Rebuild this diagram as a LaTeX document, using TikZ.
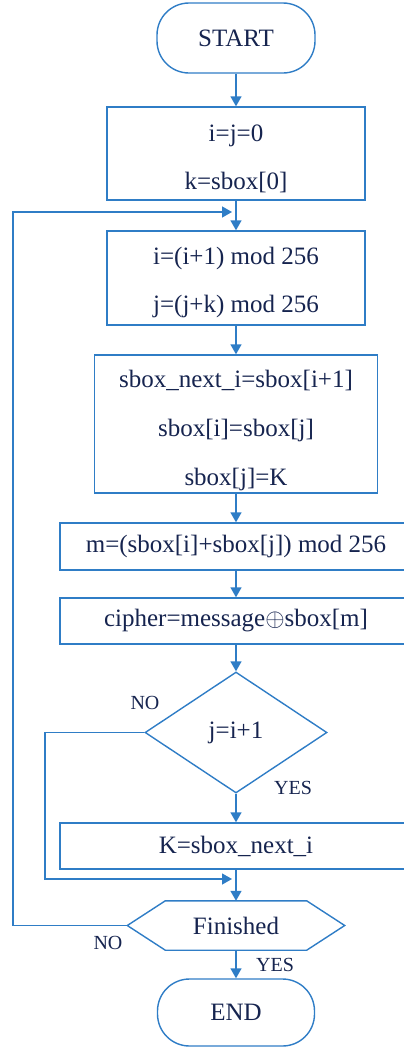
\documentclass[tikz,border=0pt]{standalone}
\usepackage{fontspec}
\setmainfont{Liberation Serif}
\usetikzlibrary{arrows.meta,positioning,shapes.geometric}
\definecolor{flowline}{HTML}{2F7DC6}
\definecolor{flowtext}{HTML}{16244F}

\begin{document}
\begin{tikzpicture}[x=1pt,y=-1pt,
  font=\fontsize{25pt}{48pt}\selectfont,text=flowtext,
  box/.style={draw=flowline,line width=1.4pt,rectangle,inner sep=0pt,align=center},
  term/.style={box,rounded corners=32pt},
  arr/.style={draw=flowline,line width=1.4pt,-{Triangle[length=10pt,width=11pt]}},
  lbl/.style={font=\fontsize{20pt}{24pt}\selectfont}]
  \useasboundingbox (0,0) rectangle (404,1050);
  % main column
  \node[term,minimum width=158pt,minimum height=70pt] (start) at (236,38) {START};
  \node[box,minimum width=258pt,minimum height=93pt] (init) at (236,153.5)
    {\rule{0pt}{27pt}i=j=0\\k=sbox[0]};
  \node[box,minimum width=258pt,minimum height=94pt] (upd) at (236,278)
    {\rule{0pt}{27pt}i=(i+1) mod 256\\j=(j+k) mod 256};
  \node[box,minimum width=283pt,minimum height=138pt,
    font=\fontsize{25pt}{49pt}\selectfont] (swap) at (236,424)
    {\rule{0pt}{30pt}sbox\_next\_i=sbox[i+1]\\sbox[i]=sbox[j]\\sbox[j]=K};
  \node[box,minimum width=352pt,minimum height=47pt] (mix) at (236,546.5)
    {m=(sbox[i]+sbox[j]) mod 256};
  \node[box,minimum width=352pt,minimum height=46pt] (enc) at (236,621)
    {cipher=message$\oplus$sbox[m]};
  \node[diamond,draw=flowline,line width=1.4pt,inner sep=0pt,
    minimum width=182pt,minimum height=121pt] (cmp) at (236,732.5) {j=i+1};
  \node[box,minimum width=352pt,minimum height=46pt] (kset) at (236,846)
    {K=sbox\_next\_i};
  \node[inner sep=0pt,minimum width=217pt,minimum height=49pt] (fin) at (236,925.5)
    {Finished};
  \draw[flowline,line width=1.4pt] (fin.west) -- ([xshift=38pt]fin.north west)
    -- ([xshift=-38pt]fin.north east) -- (fin.east)
    -- ([xshift=-38pt]fin.south east) -- ([xshift=38pt]fin.south west) -- cycle;
  \node[term,minimum width=157pt,minimum height=67pt] (endn) at (236,1012.5) {END};
  % connectors
  \draw[arr] (start) -- (init);
  \draw[arr] (init) -- (upd);
  \draw[arr] (upd) -- (swap);
  \draw[arr] (swap) -- (mix);
  \draw[arr] (mix) -- (enc);
  \draw[arr] (enc) -- (cmp);
  \draw[arr] (cmp) -- (kset);
  \draw[arr] (kset) -- (fin);
  \draw[arr] (fin) -- (endn);
  % loops back
  \coordinate (noL) at (45,879);
  \coordinate (noin) at (232,879);
  \draw[arr] (cmp.west) -| (noL) -- (noin);
  \coordinate (loopL) at (13,212);
  \coordinate (loopin) at (232,212);
  \draw[arr] (fin.west) -| (loopL) -- (loopin);
  % branch labels
  \node[lbl] (cmpno) at (145,703) {NO};
  \node[lbl] (cmpyes) at (293,788) {YES};
  \node[lbl] (finno) at (108,943) {NO};
  \node[lbl] (finyes) at (275,965) {YES};
\end{tikzpicture}
\end{document}
